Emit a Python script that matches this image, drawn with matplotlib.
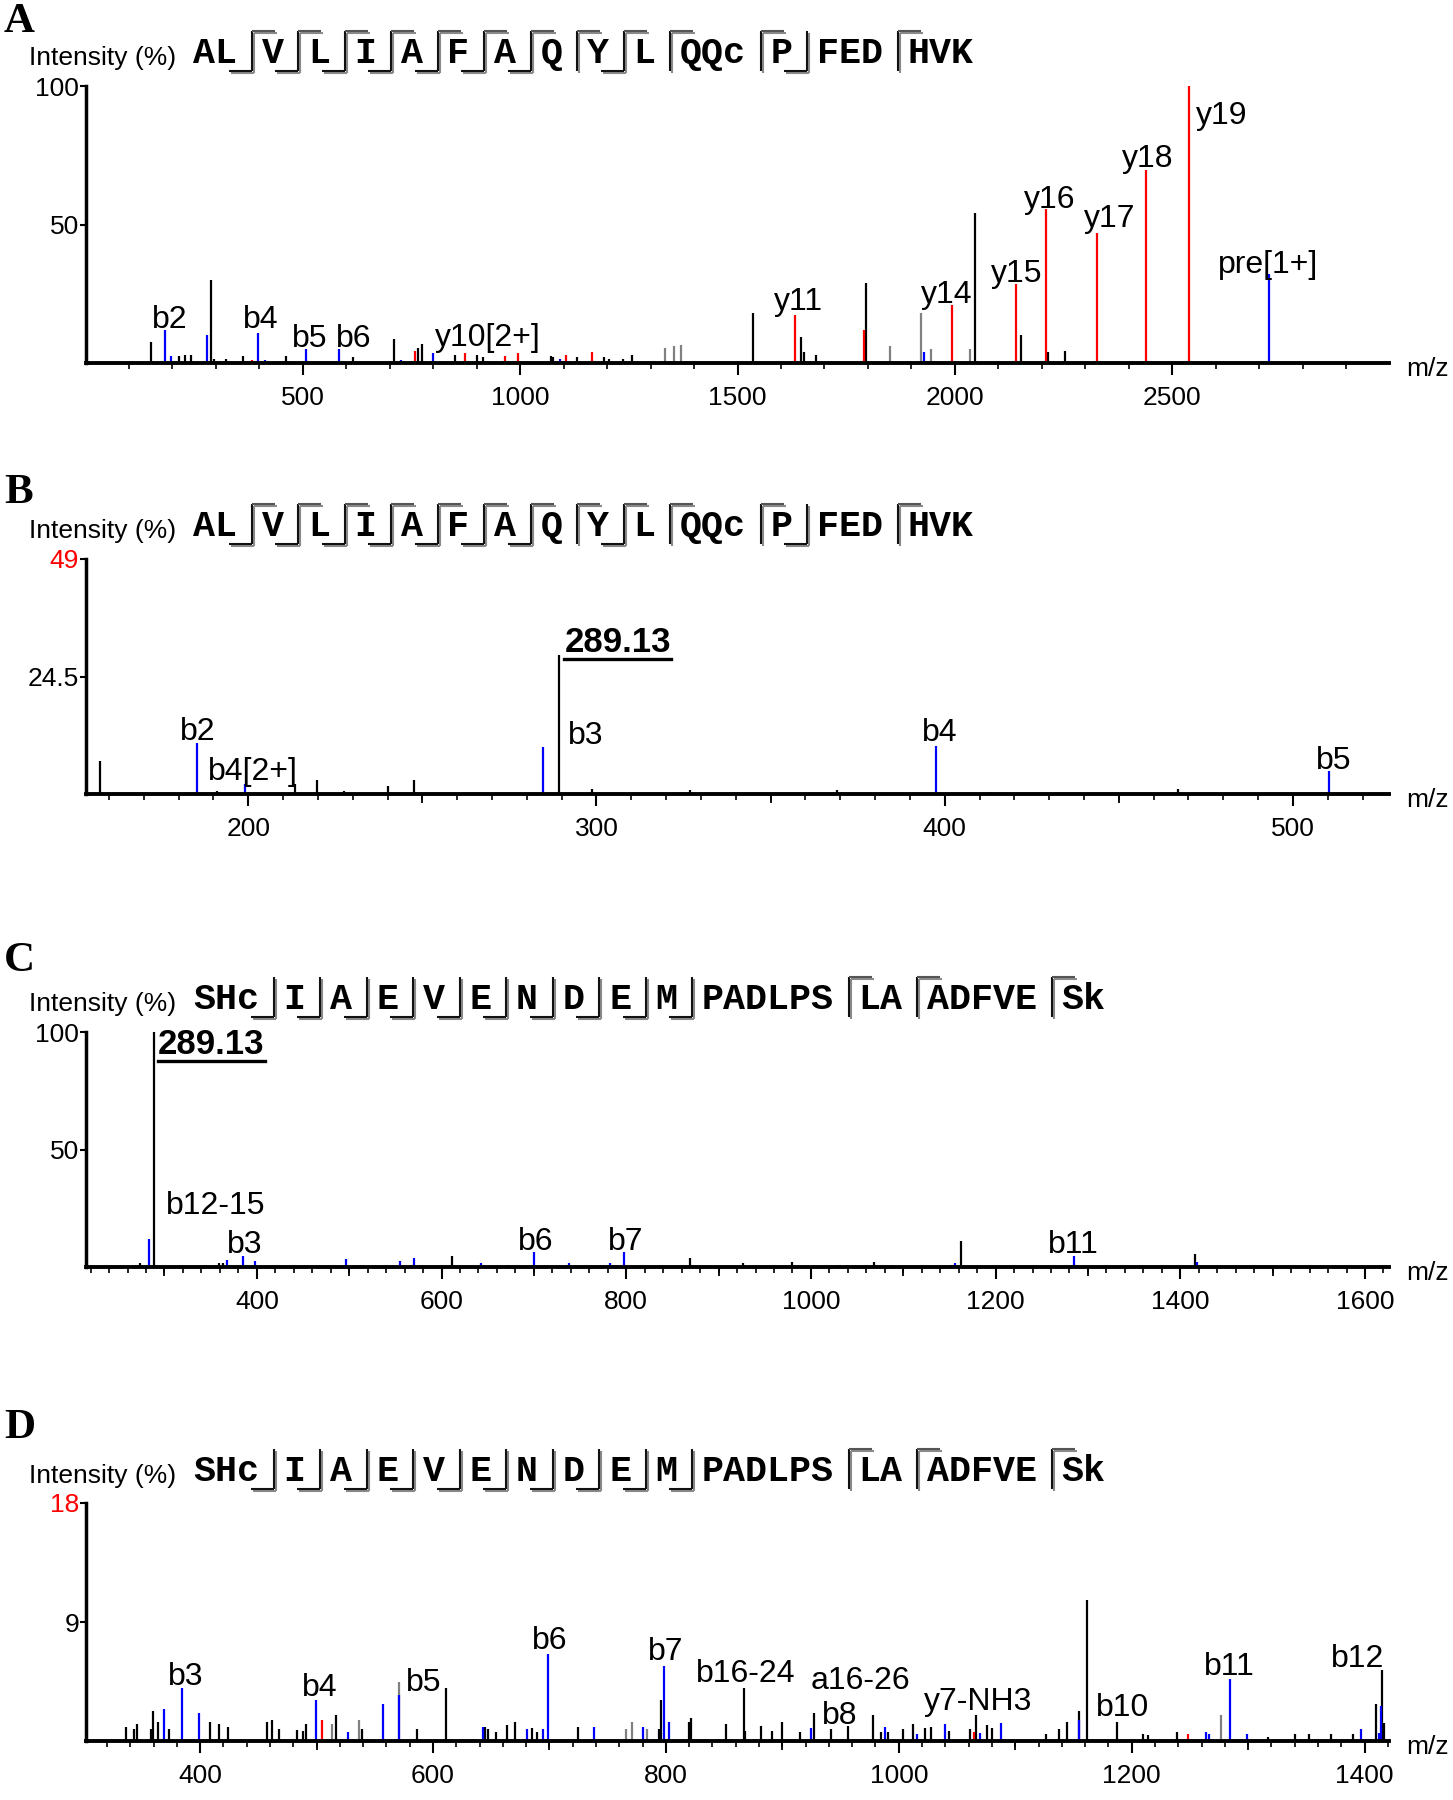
import matplotlib
matplotlib.use("Agg")
import matplotlib.pyplot as plt
from matplotlib.ticker import MultipleLocator
from matplotlib.lines import Line2D
import matplotlib.patheffects as pe

plt.rcParams['font.family'] = ['Liberation Sans', 'DejaVu Sans']

W, H, DPI = 1453, 1800, 100

# ---------------- data ----------------
seqA = ["AL", "V", "L", "I", "A", "F", "A", "Q", "Y", "L", "QQc", "P", "FED", "HVK"]
cutsA = ["by", "by", "by", "by", "by", "by", "by", "y", "by", "y", "y", "b", "y"]
seqC = ["SHc", "I", "A", "E", "V", "E", "N", "D", "E", "M", "PADLPS", "LA", "ADFVE", "Sk"]
cutsC = ["b", "b", "b", "b", "b", "b", "b", "b", "b", "b", "y", "y", "y"]

# Panel A peaks
a_black_mz = [150, 215, 229, 242, 289.13, 296, 323, 362, 462, 615, 710, 764, 774, 850, 900, 914,
              1070, 1075, 1131, 1193, 1204, 1236, 1257, 1536.5, 1647, 1652.5, 1680, 1795, 2047,
              2152, 2215, 2254]
a_black_int = [7.6, 2.5, 3, 3, 30, 1.5, 1.5, 2.5, 2.5, 2, 8.5, 5.5, 7, 3, 3, 2,
               2.5, 2, 2, 2, 1.5, 1.5, 3, 18, 9.5, 4, 3, 29, 54,
               10, 4, 4.5]
a_gray_mz = [1333, 1355, 1369, 1850, 1923, 1945, 2036]
a_gray_int = [5.5, 6, 6.5, 6, 18, 5, 5]
a_blue_mz = [183, 196, 280, 396, 412, 507, 583, 726, 800, 1091, 1929, 2724]
a_blue_int = [12, 2.5, 10, 11, 1, 5, 5, 1, 3.5, 1.5, 4, 32]
a_red_mz = [382, 758, 874, 966, 995, 1105, 1165, 1632.6, 1790.6, 1994, 2141, 2209, 2326.5, 2439, 2539]
a_red_int = [1, 4.5, 3.5, 2.5, 3.5, 3, 4, 17.5, 12, 21, 28.5, 55.5, 47, 69.5, 100]
a_lab_text = ["b2", "b4", "b5", "b6", "y10[2+]", "y11", "y14", "y15", "y16", "y17", "y18", "y19", "pre[1+]"]
a_lab_mz = [153, 363, 476, 576, 803, 1584, 1921, 2084, 2158, 2297, 2384, 2555, 2605]
a_lab_int = [12.8, 12.8, 5.8, 5.8, 6.2, 19, 21.5, 29.3, 56, 49, 70.7, 86.4, 32.6]

# Panel B peaks
b_black_mz = [157.3, 191, 213.4, 219.7, 227.5, 240, 247.7, 289.13, 298.7, 327, 369, 467]
b_black_int = [6.9, 0.7, 2, 3, 0.7, 1.7, 3, 29, 1, 0.8, 0.8, 1]
b_blue_mz = [185.2, 199, 284.6, 397.5, 413, 510.5]
b_blue_int = [10.7, 2, 9.7, 10, 0.4, 4.8]
b_red_mz = [382.8]
b_red_int = [0.4]
b_lab_text = ["b2", "b4[2+]", "b3", "b4", "b5"]
b_lab_mz = [180.5, 188.4, 291.7, 393.4, 506.6]
b_lab_int = [11.2, 2.9, 10.5, 11, 5.3]

# Panel C peaks
c_black_mz = [274, 289.13, 345, 359.5, 363, 611, 671, 869, 926.8, 979, 1029.8, 1039, 1068,
              1151.6, 1162, 1415.6]
c_black_int = [1.5, 100, 1, 1.5, 1.5, 4.5, 1, 4, 1.5, 2, 1, 1, 2, 1, 11.2, 5.6]
c_blue_mz = [283, 298, 368, 385, 397.5, 497, 555.4, 570.6, 643, 700, 737.7, 782, 797.5, 988.5,
             1087.8, 1155.8, 1285, 1299.5, 1397, 1418]
c_blue_int = [12, 0.5, 3, 4.5, 2.5, 3.5, 2.5, 4, 1.5, 6.5, 1.5, 1.5, 6.3, 0.5,
              0.8, 1.5, 4.5, 0.6, 0.5, 2]
c_red_mz = [506, 1065, 1250]
c_red_int = [1, 0.6, 0.5]
c_gray_mz = [512]
c_gray_int = [0.8]
c_lab_text = ["b12-15", "b3", "b6", "b7", "b11"]
c_lab_mz = [302, 368, 683, 780, 1257]
c_lab_int = [22.4, 5.9, 7.3, 7.3, 5.9]

# Panel D peaks
d_black_mz = [336, 343.6, 346, 357.6, 359.6, 363.6, 373, 408.8, 416.4, 424, 457.6, 461.6, 467.6,
              483.6, 488, 490.8, 516.8, 539, 586, 610.8, 644.8, 647.6, 654, 663.6, 670.8, 684.8,
              689.6, 724.8, 794, 796, 819.6, 821.6, 851.6, 866.8, 868, 881.6, 891.5, 899.8, 915.5,
              927, 942, 956.7, 978, 984.7, 990.5, 1004, 1012.4, 1022.7, 1028, 1043.3, 1061, 1066,
              1076, 1080, 1126.6, 1138, 1144.3, 1154.6, 1162, 1187.6, 1210, 1214, 1239, 1317.5,
              1340, 1352.6, 1371, 1389.7, 1410, 1415, 1416.5]
d_black_int = [1.06, 0.9, 1.26, 0.9, 2.3, 1.4, 0.9, 1.4, 1.26, 1.06, 1.4, 1.57, 0.9,
               0.83, 0.76, 1.26, 1.94, 0.9, 0.9, 4.0, 1.06, 0.9, 0.7, 1.2, 1.4, 1.0,
               0.7, 1.06, 0.9, 3.1, 1.4, 1.77, 1.26, 4.0, 0.76, 1.1, 0.76, 1.4, 0.7,
               2.1, 0.9, 1.1, 1.94, 0.7, 0.7, 0.9, 1.26, 0.96, 1.06, 0.76, 0.9, 1.94,
               1.2, 1.0, 0.56, 0.9, 1.4, 2.27, 10.7, 1.4, 0.56, 0.45, 0.7, 0.3,
               0.56, 0.56, 0.56, 0.56, 2.78, 5.35, 1.34]
d_gray_mz = [513.6, 536.8, 570.8, 766, 770.8, 784, 1276.3]
d_gray_int = [1.26, 1.57, 4.5, 0.9, 1.4, 0.9, 1.94]
d_blue_mz = [368.8, 384.8, 399, 499.2, 527, 556.8, 571, 642.8, 681, 694.8, 698.8, 738, 780, 798,
             802.8, 925, 988, 1015.7, 1040, 1070, 1087.4, 1154.6, 1264, 1266.8, 1284.5, 1299,
             1397, 1412, 1414.4]
d_blue_int = [2.45, 4.04, 2.1, 3.1, 0.7, 2.8, 3.5, 1.06, 0.9, 0.9, 6.57, 1.06, 1.06, 5.7,
              1.4, 0.96, 1.06, 0.56, 1.26, 0.6, 1.34, 1.57, 0.7, 0.56, 4.67, 0.56,
              0.9, 0.6, 2.65]
d_red_mz = [504.8, 1064.7, 1248.7]
d_red_int = [1.57, 0.7, 0.56]
d_lab_text = ["b3", "b4", "b5", "b6", "b7", "b16-24", "a16-26", "b8", "y7-NH3", "b10", "b11", "b12"]
d_lab_mz = [372.5, 487.5, 577, 685, 784.5, 825.8, 924, 934, 1022, 1169, 1262, 1371.5]
d_lab_int = [4.26, 3.4, 3.8, 6.96, 6.1, 4.43, 3.9, 1.3, 2.35, 1.9, 4.96, 5.57]

# ---------------- styles / layout ----------------
BLUE, RED, BLACK, GRAY = "#0000ff", "#ff0000", "#000000", "#808080"
AX_LEFT, AX_RIGHT = 86, 1389

fig = plt.figure(figsize=(W / DPI, H / DPI), dpi=DPI)


def fx(x):
    return x / W


def fy(y):
    return 1 - y / H


def make_axes(top, bottom, xlim, ylim, major, minor, medium, yticks, ylabels, red_top):
    ax = fig.add_axes([fx(AX_LEFT), fy(bottom), (AX_RIGHT - AX_LEFT) / W, (bottom - top) / H])
    ax.set_xlim(*xlim)
    ax.set_ylim(*ylim)
    for s in ("top", "right"):
        ax.spines[s].set_visible(False)
    ax.spines["left"].set_linewidth(2.5)
    ax.spines["bottom"].set_linewidth(2.8)
    ax.xaxis.set_major_locator(MultipleLocator(major))
    ax.xaxis.set_minor_locator(MultipleLocator(minor))
    ax.set_yticks(yticks, labels=ylabels)
    ax.tick_params(axis="x", which="major", length=8.5, width=1.5, pad=8, labelsize=19, direction="out")
    ax.tick_params(axis="x", which="minor", length=4, width=1.2, direction="out")
    ax.tick_params(axis="y", which="major", length=4, width=1.5, pad=1, labelsize=19, direction="out")
    if red_top:
        ax.get_yticklabels()[-1].set_color("red")
    if medium:
        sec = ax.secondary_xaxis("bottom")
        sec.xaxis.set_major_locator(MultipleLocator(medium))
        sec.tick_params(axis="x", which="major", length=6.5, width=1.3, labelbottom=False)
        sec.xaxis.set_minor_locator(plt.NullLocator())
        sec.spines["bottom"].set_visible(False)
    ax.annotate("m/z", xy=(1, 0), xycoords="axes fraction", xytext=(17, -6),
                textcoords="offset pixels", ha="left", va="center", fontsize=19)
    return ax


def draw_peaks(ax, groups, lw=1.6):
    for mz, inten, col in groups:
        ax.vlines(mz, 0, inten, colors=col, linewidth=lw, zorder=2)


def draw_labels(ax, texts, mzs, ints):
    for t, m, i in zip(texts, mzs, ints):
        ax.text(m, i, t, ha="left", va="baseline", fontsize=23)


shadow = [pe.SimpleLineShadow(offset=(1.3, -1.3), shadow_color="#8a8a8a", alpha=1.0), pe.Normal()]


def line_px(xs, ys, color="#111111", lw=1.5):
    fig.add_artist(Line2D([fx(x) for x in xs], [fy(y) for y in ys], transform=fig.transFigure,
                          color=color, linewidth=lw, path_effects=shadow, solid_capstyle="butt"))


def draw_header(letter, letter_base, base, segs, cuts):
    fig.text(fx(4), fy(letter_base), letter, fontsize=31, fontweight="bold",
             family="Liberation Serif", ha="left", va="baseline")
    fig.text(fx(29), fy(base + 2), "Intensity (%)", fontsize=19, ha="left", va="baseline")
    adv, gap = 22.0, 24.5
    x = 193
    for i, s in enumerate(segs):
        fig.text(fx(x), fy(base), s, family="Liberation Mono", fontweight="bold",
                 fontsize=26.4, ha="left", va="baseline")
        x += len(s) * adv
        if i < len(cuts):
            vx = x + 0.6 * gap
            top, bot = base - 32, base + 8
            line_px([vx, vx], [bot, top])
            if "b" in cuts[i]:
                line_px([vx - 23, vx], [bot, bot])
            if "y" in cuts[i]:
                line_px([vx, vx + 23], [top, top], color="#555555")
            x += gap


# Panel A
axA = make_axes(86, 363, (1, 2999), (0, 100), 500, 100, None, [50, 100], ["50", "100"], False)
draw_peaks(axA, [(a_gray_mz, a_gray_int, GRAY), (a_black_mz, a_black_int, BLACK),
                 (a_red_mz, a_red_int, RED), (a_blue_mz, a_blue_int, BLUE)])
draw_labels(axA, a_lab_text, a_lab_mz, a_lab_int)
draw_header("A", 32, 63, seqA, cutsA)

# Panel B
axB = make_axes(559, 794, (153.4, 527.6), (0, 49), 100, 10, 50, [24.5, 49], ["24.5", "49"], True)
draw_peaks(axB, [(b_black_mz, b_black_int, BLACK), (b_red_mz, b_red_int, RED),
                 (b_blue_mz, b_blue_int, BLUE)])
draw_labels(axB, b_lab_text, b_lab_mz, b_lab_int)
tB = axB.text(290.8, 29.6, "289.13", ha="left", va="baseline", fontsize=25, fontweight="bold")
draw_header("B", 503, 536, seqA, cutsA)

# Panel C
axC = make_axes(1032, 1267, (215, 1626), (0, 100), 200, 20, 100, [50, 100], ["50", "100"], False)
draw_peaks(axC, [(c_gray_mz, c_gray_int, GRAY), (c_black_mz, c_black_int, BLACK),
                 (c_red_mz, c_red_int, RED), (c_blue_mz, c_blue_int, BLUE)])
draw_labels(axC, c_lab_text, c_lab_mz, c_lab_int)
tC = axC.text(293, 90.7, "289.13", ha="left", va="baseline", fontsize=25, fontweight="bold")
draw_header("C", 971, 1009, seqC, cutsC)

# Panel D
axD = make_axes(1503, 1741, (302, 1421), (0, 18), 200, 20, 100, [9, 18], ["9", "18"], True)
draw_peaks(axD, [(d_gray_mz, d_gray_int, GRAY), (d_black_mz, d_black_int, BLACK),
                 (d_red_mz, d_red_int, RED), (d_blue_mz, d_blue_int, BLUE)])
draw_labels(axD, d_lab_text, d_lab_mz, d_lab_int)
draw_header("D", 1438, 1481, seqC, cutsC)

# underline the bold m/z labels
fig.canvas.draw()
renderer = fig.canvas.get_renderer()
inv = fig.transFigure.inverted()
for ax, t, (xm, yb) in [(axB, tB, (290.8, 29.6)), (axC, tC, (293, 90.7))]:
    bb = t.get_window_extent(renderer)
    ydisp = ax.transData.transform((xm, yb))[1] - 7
    p0 = inv.transform((bb.x0, ydisp))
    p1 = inv.transform((bb.x1, ydisp))
    fig.add_artist(Line2D([p0[0], p1[0]], [p0[1], p1[1]], transform=fig.transFigure,
                          color="black", linewidth=2.4))

fig.savefig("out.png", dpi=DPI)
